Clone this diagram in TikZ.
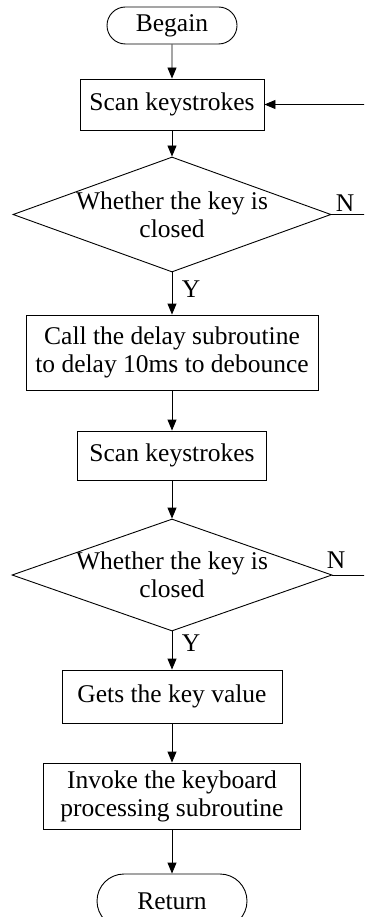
\documentclass[tikz,border=0pt]{standalone}
\usepackage{fontspec}
\setmainfont{Liberation Serif}
\usetikzlibrary{shapes.geometric,shapes.misc,arrows.meta}
\begin{document}
\begin{tikzpicture}[x=1pt,y=-1pt,
  every node/.style={font=\fontsize{25.5}{28}\selectfont, inner sep=0pt},
  proc/.style={draw, line width=0.9pt, rectangle, align=center},
  term/.style={draw, line width=0.9pt, rounded rectangle, align=center},
  dec/.style={draw, line width=0.9pt, diamond, minimum width=318pt, minimum height=115pt},
  flow/.style={line width=0.9pt, -{Triangle[width=9pt,length=11pt]}},
  plain/.style={line width=0.9pt}]
\useasboundingbox (0,0) rectangle (364,917);
\clip (0,0) rectangle (364,917);

\node[term, minimum width=130pt, minimum height=37pt] (b) at (172,25.5) {Begain};
\node[proc, minimum width=184pt, minimum height=51pt] (s1) at (172,104.5) {Scan keystrokes};
\node[dec, label={[align=center]center:Whether the key is\\closed}] (d1) at (172,214.5) {};
\node[proc, minimum width=292pt, minimum height=75pt] (c) at (172,352.5) {Call the delay subroutine\\to delay 10ms to debounce};
\node[proc, minimum width=189pt, minimum height=49pt] (s2) at (172,455.5) {Scan keystrokes};
\node[dec, minimum width=320pt, minimum height=112pt, label={[align=center]center:Whether the key is\\closed}] (d2) at (172,575) {};
\node[proc, minimum width=220pt, minimum height=53pt] (g) at (172,696.5) {Gets the key value};
\node[proc, minimum width=257pt, minimum height=66pt] (i) at (172,796) {Invoke the keyboard\\processing subroutine};
\node[term, minimum width=150pt, minimum height=54pt] (r) at (172,901) {Return};

\node (n1) at (345,203) {N};
\node (n2) at (336,560) {N};
\node (y1) at (191,289) {Y};
\node (y2) at (191,643) {Y};

\coordinate (xr) at (374,0);

\draw[flow] (b) -- (s1);
\draw[flow] (s1) -- (d1);
\draw[flow] (d1) -- (c);
\draw[flow] (c) -- (s2);
\draw[flow] (s2) -- (d2);
\draw[flow] (d2) -- (g);
\draw[flow] (g) -- (i);
\draw[flow] (i) -- (r);

\draw[plain] (d1.east) -- (d1.east -| xr);
\draw[flow] (d2.east) -| (xr |- s1.east) -- (s1.east);
\end{tikzpicture}
\end{document}
